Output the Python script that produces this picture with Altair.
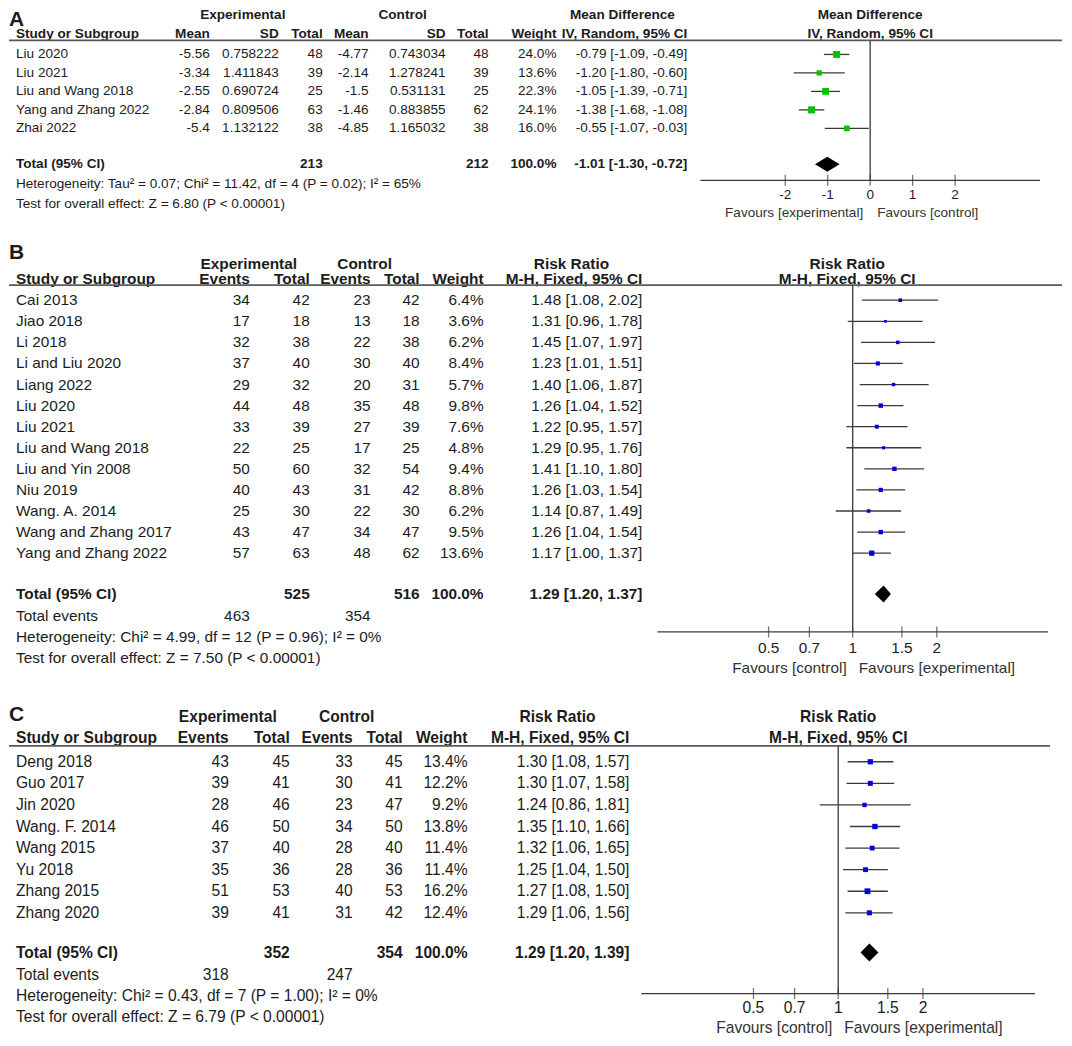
import altair as alt
import pandas as pd

FONT = "Liberation Sans"
INK = "#1c1c1c"
GRAY = "#3a3a3a"
W = 1056

# ---------------- Panel A : Mean Difference ----------------
a_study = ["Liu 2020", "Liu 2021", "Liu and Wang 2018", "Yang and Zhang 2022", "Zhai 2022"]
a_exp_mean = [-5.56, -3.34, -2.55, -2.84, -5.4]
a_exp_sd = [0.758222, 1.411843, 0.690724, 0.809506, 1.132122]
a_exp_n = [48, 39, 25, 63, 38]
a_ctl_mean = [-4.77, -2.14, -1.5, -1.46, -4.85]
a_ctl_sd = [0.743034, 1.278241, 0.531131, 0.883855, 1.165032]
a_ctl_n = [48, 39, 25, 62, 38]
a_weight = [24.0, 13.6, 22.3, 24.1, 16.0]
a_est = [-0.79, -1.20, -1.05, -1.38, -0.55]
a_lo = [-1.09, -1.80, -1.39, -1.68, -1.07]
a_hi = [-0.49, -0.60, -0.71, -1.08, -0.03]
a_tot_exp_n, a_tot_ctl_n = 213, 212
a_tot_est, a_tot_lo, a_tot_hi = -1.01, -1.30, -0.72
a_het = "Heterogeneity: Tau² = 0.07; Chi² = 11.42, df = 4 (P = 0.02); I² = 65%"
a_test = "Test for overall effect: Z = 6.80 (P < 0.00001)"
a_ticks = [-2, -1, 0, 1, 2]
a_tick_labels = ["-2", "-1", "0", "1", "2"]
a_favours = ["Favours [experimental]", "Favours [control]"]

# ---------------- Panel B : Risk Ratio ----------------
b_study = ["Cai 2013", "Jiao 2018", "Li 2018", "Li and Liu 2020", "Liang 2022", "Liu 2020",
           "Liu 2021", "Liu and Wang 2018", "Liu and Yin 2008", "Niu 2019", "Wang. A. 2014",
           "Wang and Zhang 2017", "Yang and Zhang 2022"]
b_exp_ev = [34, 17, 32, 37, 29, 44, 33, 22, 50, 40, 25, 43, 57]
b_exp_n = [42, 18, 38, 40, 32, 48, 39, 25, 60, 43, 30, 47, 63]
b_ctl_ev = [23, 13, 22, 30, 20, 35, 27, 17, 32, 31, 22, 34, 48]
b_ctl_n = [42, 18, 38, 40, 31, 48, 39, 25, 54, 42, 30, 47, 62]
b_weight = [6.4, 3.6, 6.2, 8.4, 5.7, 9.8, 7.6, 4.8, 9.4, 8.8, 6.2, 9.5, 13.6]
b_est = [1.48, 1.31, 1.45, 1.23, 1.40, 1.26, 1.22, 1.29, 1.41, 1.26, 1.14, 1.26, 1.17]
b_lo = [1.08, 0.96, 1.07, 1.01, 1.06, 1.04, 0.95, 0.95, 1.10, 1.03, 0.87, 1.04, 1.00]
b_hi = [2.02, 1.78, 1.97, 1.51, 1.87, 1.52, 1.57, 1.76, 1.80, 1.54, 1.49, 1.54, 1.37]
b_tot_exp_n, b_tot_ctl_n = 525, 516
b_tot_exp_ev, b_tot_ctl_ev = 463, 354
b_tot_est, b_tot_lo, b_tot_hi = 1.29, 1.20, 1.37
b_het = "Heterogeneity: Chi² = 4.99, df = 12 (P = 0.96); I² = 0%"
b_test = "Test for overall effect: Z = 7.50 (P < 0.00001)"

# ---------------- Panel C : Risk Ratio ----------------
c_study = ["Deng 2018", "Guo 2017", "Jin 2020", "Wang. F. 2014", "Wang 2015", "Yu 2018",
           "Zhang 2015", "Zhang 2020"]
c_exp_ev = [43, 39, 28, 46, 37, 35, 51, 39]
c_exp_n = [45, 41, 46, 50, 40, 36, 53, 41]
c_ctl_ev = [33, 30, 23, 34, 28, 28, 40, 31]
c_ctl_n = [45, 41, 47, 50, 40, 36, 53, 42]
c_weight = [13.4, 12.2, 9.2, 13.8, 11.4, 11.4, 16.2, 12.4]
c_est = [1.30, 1.30, 1.24, 1.35, 1.32, 1.25, 1.27, 1.29]
c_lo = [1.08, 1.07, 0.86, 1.10, 1.06, 1.04, 1.08, 1.06]
c_hi = [1.57, 1.58, 1.81, 1.66, 1.65, 1.50, 1.50, 1.56]
c_tot_exp_n, c_tot_ctl_n = 352, 354
c_tot_exp_ev, c_tot_ctl_ev = 318, 247
c_tot_est, c_tot_lo, c_tot_hi = 1.29, 1.20, 1.39
c_het = "Heterogeneity: Chi² = 0.43, df = 7 (P = 1.00); I² = 0%"
c_test = "Test for overall effect: Z = 6.79 (P < 0.00001)"

rr_ticks = [0.5, 0.7, 1, 1.5, 2]
rr_tick_labels = ["0.5", "0.7", "1", "1.5", "2"]
rr_favours = ["Favours [control]", "Favours [experimental]"]


def ci_text(e, l, h):
    return f"{e:.2f} [{l:.2f}, {h:.2f}]"


def build_panel(spec):
    H, sp, row0, fs = spec["H"], spec["sp"], spec["row0"], spec["fs"]
    ysc = alt.Scale(domain=[-row0 / sp, (H - row0) / sp], nice=False, zero=False, reverse=True)
    xsc = alt.Scale(type=spec["xtype"], domain=spec["xdom"], range=spec["xrange"], nice=False, zero=False)
    df = spec["df"]
    layers = []

    def static(text, x, y, align="left", bold=False, size=None):
        return alt.Chart(pd.DataFrame({"t": [text]})).mark_text(
            align=align, baseline="middle", font=FONT, fontSize=size or fs,
            fontWeight="bold" if bold else "normal", color=INK
        ).encode(x=alt.value(x), y=alt.value(y), text="t:N")

    # panel letter
    layers.append(static(spec["letter"], 0, spec["letter_y"], bold=True, size=21))
    # header rows
    for t, x, al in spec["hdr1"]:
        layers.append(static(t, x, spec["hdr1_y"], align=al, bold=True))
    for t, x, al in spec["hdr2"]:
        layers.append(static(t, x, spec["hdr2_y"], align=al, bold=True))
    # header rule
    layers.append(alt.Chart(pd.DataFrame({"a": [0]})).mark_rule(color="#5a5a5a", strokeWidth=1.8).encode(
        x=alt.value(0), x2=alt.value(spec["line_x2"]), y=alt.value(spec["line_y"])))
    # study rows
    for field, x, al in spec["cols"]:
        layers.append(alt.Chart(df).mark_text(
            align=al, baseline="middle", font=FONT, fontSize=fs, color=INK
        ).encode(x=alt.value(x), y=alt.Y("row:Q", scale=ysc, axis=None), text=f"{field}:N"))
    # totals
    for t, x, al in spec["total"]:
        layers.append(static(t, x, spec["total_y"], align=al, bold=True))
    for t, x, al in spec.get("events", []):
        layers.append(static(t, x, spec["events_y"], align=al))
    layers.append(static(spec["het"], 7, spec["het_y"]))
    layers.append(static(spec["test"], 7, spec["test_y"]))

    # forest: null line
    layers.append(alt.Chart(pd.DataFrame({"v": [spec["null"]]})).mark_rule(color=GRAY, strokeWidth=1.3).encode(
        x=alt.X("v:Q", scale=xsc, axis=None), y=alt.value(spec["line_y"]), y2=alt.value(spec["axis_y"])))
    # CI lines
    layers.append(alt.Chart(df).mark_rule(color=GRAY, strokeWidth=1.3).encode(
        x=alt.X("lo:Q", scale=xsc, axis=None), x2="hi:Q", y=alt.Y("row:Q", scale=ysc, axis=None)))
    # squares
    layers.append(alt.Chart(df).mark_point(shape="square", filled=True, opacity=1, color=spec["color"],
                                           strokeWidth=0).encode(
        x=alt.X("est:Q", scale=xsc, axis=None), y=alt.Y("row:Q", scale=ysc, axis=None),
        size=alt.Size("w:Q", scale=alt.Scale(domain=[0, 100], range=[0, 100 * spec["k"]]), legend=None)))
    # diamond
    rt = (spec["total_y"] - row0) / sp
    h = spec["dh"] / sp
    e, l, hi = spec["tot_ci"]
    dd = pd.DataFrame({"x": [l, e, hi], "y1": [rt, rt - h, rt], "y2": [rt, rt + h, rt]})
    layers.append(alt.Chart(dd).mark_area(color="black", orient="vertical", opacity=1).encode(
        x=alt.X("x:Q", scale=xsc, axis=None), y=alt.Y("y1:Q", scale=ysc, axis=None), y2="y2:Q"))
    # axis line
    layers.append(alt.Chart(pd.DataFrame({"a": [spec["xdom"][0]], "b": [spec["xdom"][1]]})).mark_rule(
        color=GRAY, strokeWidth=1.3).encode(
        x=alt.X("a:Q", scale=xsc, axis=None), x2="b:Q", y=alt.value(spec["axis_y"])))
    tdf = pd.DataFrame({"v": spec["ticks"], "lab": spec["tick_labels"]})
    layers.append(alt.Chart(tdf).mark_tick(orient="vertical", size=11, thickness=1.3, color=GRAY).encode(
        x=alt.X("v:Q", scale=xsc, axis=None), y=alt.value(spec["axis_y"])))
    layers.append(alt.Chart(tdf).mark_text(align="center", baseline="middle", font=FONT, fontSize=fs,
                                          color=INK).encode(
        x=alt.X("v:Q", scale=xsc, axis=None), y=alt.value(spec["ticklab_y"]), text="lab:N"))
    # favours
    fdf = pd.DataFrame({"v": [spec["null"]], "l": [spec["favours"][0]], "r": [spec["favours"][1]]})
    layers.append(alt.Chart(fdf).mark_text(align="right", baseline="middle", font=FONT, fontSize=fs,
                                          color="#333333", dx=-spec["fav_dx"]).encode(
        x=alt.X("v:Q", scale=xsc, axis=None), y=alt.value(spec["fav_y"]), text="l:N"))
    layers.append(alt.Chart(fdf).mark_text(align="left", baseline="middle", font=FONT, fontSize=fs,
                                          color="#333333", dx=spec["fav_dx"]).encode(
        x=alt.X("v:Q", scale=xsc, axis=None), y=alt.value(spec["fav_y"]), text="r:N"))
    return alt.layer(*layers).properties(width=W, height=H)


# ---------- tables ----------
dfA = pd.DataFrame({
    "row": list(range(len(a_study))), "study": a_study,
    "em": [str(v) for v in a_exp_mean], "esd": [str(v) for v in a_exp_sd], "en": [str(v) for v in a_exp_n],
    "cm": [str(v) for v in a_ctl_mean], "csd": [str(v) for v in a_ctl_sd], "cn": [str(v) for v in a_ctl_n],
    "wt": [f"{w:.1f}%" for w in a_weight], "w": a_weight,
    "ci": [ci_text(e, l, h) for e, l, h in zip(a_est, a_lo, a_hi)],
    "est": a_est, "lo": a_lo, "hi": a_hi,
})


def rr_df(study, ee, en, ce, cn, w, est, lo, hi):
    return pd.DataFrame({
        "row": list(range(len(study))), "study": study,
        "ee": [str(v) for v in ee], "en": [str(v) for v in en],
        "ce": [str(v) for v in ce], "cn": [str(v) for v in cn],
        "wt": [f"{v:.1f}%" for v in w], "w": w,
        "ci": [ci_text(e, l, h) for e, l, h in zip(est, lo, hi)],
        "est": est, "lo": lo, "hi": hi,
    })


dfB = rr_df(b_study, b_exp_ev, b_exp_n, b_ctl_ev, b_ctl_n, b_weight, b_est, b_lo, b_hi)
dfC = rr_df(c_study, c_exp_ev, c_exp_n, c_ctl_ev, c_ctl_n, c_weight, c_est, c_lo, c_hi)

specA = dict(
    H=233, row0=45, sp=18.5, fs=13.6, df=dfA, letter="A", letter_y=11,
    hdr1_y=6, hdr1=[("Experimental", 234, "center"), ("Control", 394, "center"),
                    ("Mean Difference", 614, "center"), ("Mean Difference", 862, "center")],
    hdr2_y=25, hdr2=[("Study or Subgroup", 7, "left"), ("Mean", 201, "right"), ("SD", 270, "right"),
                     ("Total", 314, "right"), ("Mean", 360, "right"), ("SD", 437, "right"),
                     ("Total", 480, "right"), ("Weight", 548, "right"),
                     ("IV, Random, 95% CI", 679, "right"), ("IV, Random, 95% CI", 862, "center")],
    line_y=31, line_x2=1054,
    cols=[("study", 7, "left"), ("em", 201, "right"), ("esd", 270, "right"), ("en", 314, "right"),
          ("cm", 360, "right"), ("csd", 437, "right"), ("cn", 480, "right"), ("wt", 548, "right"),
          ("ci", 679, "right")],
    total_y=155, total=[("Total (95% CI)", 7, "left"), (str(a_tot_exp_n), 314, "right"),
                        (str(a_tot_ctl_n), 480, "right"), ("100.0%", 548, "right"),
                        (ci_text(a_tot_est, a_tot_lo, a_tot_hi), 679, "right")],
    het=a_het, het_y=175, test=a_test, test_y=195,
    xtype="linear", xdom=[-4, 4], xrange=[692, 1032], null=0,
    axis_y=171, ticklab_y=186, fav_y=204, fav_dx=7,
    ticks=a_ticks, tick_labels=a_tick_labels, favours=a_favours,
    color="#00c400", k=2.05, dh=7.5, tot_ci=(a_tot_est, a_tot_lo, a_tot_hi),
)

rr_cols = lambda xs: [("study", 7, "left"), ("ee", xs[0], "right"), ("en", xs[1], "right"),
                      ("ce", xs[2], "right"), ("cn", xs[3], "right"), ("wt", xs[4], "right"),
                      ("ci", xs[5], "right")]

bx = [241, 301, 362, 411, 475, 634]
specB = dict(
    H=455, row0=58, sp=21.1, fs=15.4, df=dfB, letter="B", letter_y=11,
    hdr1_y=22, hdr1=[("Experimental", 240, "center"), ("Control", 356, "center"),
                     ("Risk Ratio", 563, "center"), ("Risk Ratio", 839, "center")],
    hdr2_y=37, hdr2=[("Study or Subgroup", 7, "left"), ("Events", bx[0], "right"), ("Total", bx[1], "right"),
                     ("Events", bx[2], "right"), ("Total", bx[3], "right"), ("Weight", bx[4], "right"),
                     ("M-H, Fixed, 95% CI", bx[5], "right"), ("M-H, Fixed, 95% CI", 839, "center")],
    line_y=43, line_x2=1054, cols=rr_cols(bx),
    total_y=352, total=[("Total (95% CI)", 7, "left"), (str(b_tot_exp_n), bx[1], "right"),
                        (str(b_tot_ctl_n), bx[3], "right"), ("100.0%", bx[4], "right"),
                        (ci_text(b_tot_est, b_tot_lo, b_tot_hi), bx[5], "right")],
    events_y=374, events=[("Total events", 7, "left"), (str(b_tot_exp_ev), bx[0], "right"),
                          (str(b_tot_ctl_ev), bx[2], "right")],
    het=b_het, het_y=395, test=b_test, test_y=416,
    xtype="log", xdom=[0.2, 5], xrange=[649, 1040], null=1,
    axis_y=390, ticklab_y=406, fav_y=426, fav_dx=6,
    ticks=rr_ticks, tick_labels=rr_tick_labels, favours=rr_favours,
    color="#0000e0", k=2.5, dh=8.5, tot_ci=(b_tot_est, b_tot_lo, b_tot_hi),
)

cx = [220, 281, 344, 394, 459, 621]
specC = dict(
    H=337, row0=65, sp=21.6, fs=15.6, df=dfC, letter="C", letter_y=18,
    hdr1_y=20, hdr1=[("Experimental", 219, "center"), ("Control", 338, "center"),
                     ("Risk Ratio", 549, "center"), ("Risk Ratio", 830, "center")],
    hdr2_y=41, hdr2=[("Study or Subgroup", 7, "left"), ("Events", cx[0], "right"), ("Total", cx[1], "right"),
                     ("Events", cx[2], "right"), ("Total", cx[3], "right"), ("Weight", cx[4], "right"),
                     ("M-H, Fixed, 95% CI", cx[5], "right"), ("M-H, Fixed, 95% CI", 830, "center")],
    line_y=49, line_x2=1042, cols=rr_cols(cx),
    total_y=256, total=[("Total (95% CI)", 7, "left"), (str(c_tot_exp_n), cx[1], "right"),
                        (str(c_tot_ctl_n), cx[3], "right"), ("100.0%", cx[4], "right"),
                        (ci_text(c_tot_est, c_tot_lo, c_tot_hi), cx[5], "right")],
    events_y=278, events=[("Total events", 7, "left"), (str(c_tot_exp_ev), cx[0], "right"),
                          (str(c_tot_ctl_ev), cx[2], "right")],
    het=c_het, het_y=299, test=c_test, test_y=320,
    xtype="log", xdom=[0.2, 5], xrange=[633, 1027], null=1,
    axis_y=297, ticklab_y=311, fav_y=331, fav_dx=6,
    ticks=rr_ticks, tick_labels=rr_tick_labels, favours=rr_favours,
    color="#0000e0", k=2.6, dh=9, tot_ci=(c_tot_est, c_tot_lo, c_tot_hi),
)

chart = alt.vconcat(build_panel(specA), build_panel(specB), build_panel(specC),
                    spacing=0, bounds="flush").properties(padding=0).configure_view(strokeOpacity=0)

chart.save("out.html", embed_options={"renderer": "svg", "actions": False})
